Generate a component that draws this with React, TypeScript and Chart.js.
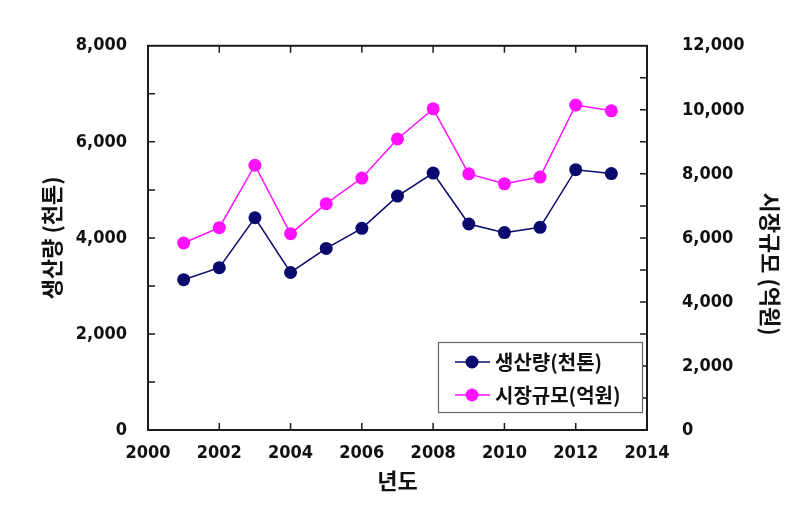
import React, { useEffect, useRef } from "react";
import { Chart, registerables } from "chart.js";

Chart.register(...registerables);

const years = [2001, 2002, 2003, 2004, 2005, 2006, 2007, 2008, 2009, 2010, 2011, 2012, 2013];
const production = [3130, 3380, 4420, 3280, 3780, 4200, 4870, 5350, 4290, 4110, 4220, 5420, 5340];
const marketSize = [5840, 6320, 8270, 6130, 7070, 7870, 9090, 10030, 8000, 7690, 7900, 10150, 9970];
const seriesNames = ["생산량(천톤)", "시장규모(억원)"];
const seriesColors = ["#0a0a6e", "#ff10ff"];
const leftTitle = "생산량 (천톤)";
const rightTitle = "시장규모 (억원)";
const xTitle = "년도";
const xRange = [2000, 2014];
const leftRange = [0, 8000];
const rightRange = [0, 12000];

const FONT = '"DejaVu Sans Condensed", "Liberation Sans", "Noto Sans CJK KR", sans-serif';
const KFONT = '"Noto Sans CJK KR", "Liberation Sans", sans-serif';

const decorPlugin = {
  id: "decor",
  afterDraw(chart: any) {
    const ctx = chart.ctx;
    const { left, right, top, bottom } = chart.chartArea;
    const sx = chart.scales.x;
    const sy = chart.scales.y;
    const sy1 = chart.scales.y1;
    ctx.save();
    // frame
    ctx.strokeStyle = "#1a1a1a";
    ctx.lineWidth = 2;
    ctx.strokeRect(left, top, right - left, bottom - top);
    // ticks inward
    ctx.lineWidth = 1.5;
    const tl = 7;
    ctx.beginPath();
    for (let v = xRange[0] + 2; v < xRange[1]; v += 2) {
      const px = sx.getPixelForValue(v);
      ctx.moveTo(px, bottom);
      ctx.lineTo(px, bottom - tl);
      ctx.moveTo(px, top);
      ctx.lineTo(px, top + tl);
    }
    for (let v = leftRange[0] + 1000; v < leftRange[1]; v += 1000) {
      const py = sy.getPixelForValue(v);
      ctx.moveTo(left, py);
      ctx.lineTo(left + tl, py);
    }
    for (let v = rightRange[0] + 1000; v < rightRange[1]; v += 1000) {
      const py = sy1.getPixelForValue(v);
      ctx.moveTo(right, py);
      ctx.lineTo(right - tl, py);
    }
    ctx.stroke();

    // titles
    ctx.fillStyle = "#111";
    ctx.font = `bold 22px ${KFONT}`;
    ctx.textAlign = "center";
    ctx.textBaseline = "middle";
    ctx.fillText(xTitle, (left + right) / 2, 481);

    ctx.save();
    ctx.translate(52, (top + bottom) / 2);
    ctx.rotate(-Math.PI / 2);
    ctx.fillText(leftTitle, 0, 0);
    ctx.restore();

    ctx.save();
    ctx.translate(770, 264);
    ctx.rotate(Math.PI / 2);
    ctx.fillText(rightTitle, 0, 0);
    ctx.restore();

    // legend
    const bx = 438.5, by = 342.5, bw = 204, bh = 70;
    ctx.fillStyle = "#fff";
    ctx.fillRect(bx, by, bw, bh);
    ctx.strokeStyle = "#666";
    ctx.lineWidth = 1.2;
    ctx.strokeRect(bx, by, bw, bh);
    const rows = [362, 395];
    seriesNames.forEach((name, i) => {
      const y = rows[i];
      ctx.strokeStyle = seriesColors[i];
      ctx.lineWidth = 1.5;
      ctx.beginPath();
      ctx.moveTo(455, y);
      ctx.lineTo(490, y);
      ctx.stroke();
      ctx.fillStyle = seriesColors[i];
      ctx.beginPath();
      ctx.arc(472, y, 6.5, 0, Math.PI * 2);
      ctx.fill();
      ctx.fillStyle = "#111";
      ctx.font = `bold 20px ${KFONT}`;
      ctx.textAlign = "left";
      ctx.textBaseline = "middle";
      ctx.fillText(name, 495, y);
    });
    ctx.restore();
  },
};

export default function App() {
  const ref = useRef<HTMLCanvasElement | null>(null);
  useEffect(() => {
    document.body.style.margin = "0";
    if (!ref.current) return;
    const fmt = (v: any) => Number(v).toLocaleString("en-US");
    const tickFont = { family: FONT, size: 18, weight: "bold" };
    const chart = new Chart(ref.current, {
      type: "line",
      data: {
        datasets: [
          {
            label: seriesNames[0],
            data: years.map((x, i) => ({ x, y: production[i] })),
            borderColor: seriesColors[0],
            backgroundColor: seriesColors[0],
            borderWidth: 1.5,
            pointRadius: 6.5,
            pointBorderWidth: 0,
            pointBackgroundColor: seriesColors[0],
            yAxisID: "y",
          },
          {
            label: seriesNames[1],
            data: years.map((x, i) => ({ x, y: marketSize[i] })),
            borderColor: seriesColors[1],
            backgroundColor: seriesColors[1],
            borderWidth: 1.5,
            pointRadius: 6.5,
            pointBorderWidth: 0,
            pointBackgroundColor: seriesColors[1],
            yAxisID: "y1",
          },
        ],
      },
      options: {
        responsive: false,
        animation: false,
        layout: { padding: { top: 43, left: 0, right: 0, bottom: 0 } },
        plugins: { legend: { display: false }, tooltip: { enabled: false } },
        scales: {
          x: {
            type: "linear",
            min: xRange[0],
            max: xRange[1],
            grid: { display: false, drawTicks: false },
            border: { display: false },
            ticks: {
              stepSize: 2,
              color: "#111",
              padding: 13,
              font: tickFont,
              callback: (v: any) => String(v),
              maxRotation: 0,
            },
            afterFit: (s: any) => {
              s.height = 77;
            },
          },
          y: {
            position: "left",
            min: leftRange[0],
            max: leftRange[1],
            grid: { display: false, drawTicks: false },
            border: { display: false },
            ticks: {
              stepSize: 2000,
              color: "#111",
              padding: 21,
              font: tickFont,
              callback: fmt,
            },
            afterFit: (s: any) => {
              s.width = 148;
            },
          },
          y1: {
            position: "right",
            min: rightRange[0],
            max: rightRange[1],
            grid: { display: false, drawTicks: false },
            border: { display: false },
            ticks: {
              stepSize: 2000,
              color: "#111",
              padding: 35,
              font: tickFont,
              callback: fmt,
            },
            afterFit: (s: any) => {
              s.width = 160;
            },
          },
        },
      },
      plugins: [decorPlugin],
    } as any);
    return () => chart.destroy();
  }, []);
  return (
    <div style={{ width: 807, height: 507, background: "#fff" }}>
      <canvas ref={ref} width={807} height={507} />
    </div>
  );
}
